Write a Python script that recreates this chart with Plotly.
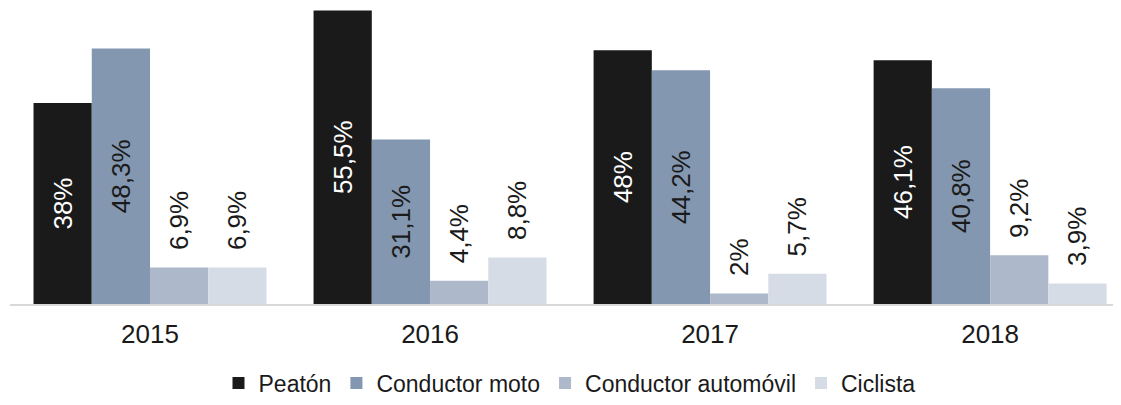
import plotly.graph_objects as go

years = ["2015", "2016", "2017", "2018"]
series_names = ["Peatón", "Conductor moto", "Conductor automóvil", "Ciclista"]
peaton = [38.0, 55.5, 48.0, 46.1]
moto = [48.3, 31.1, 44.2, 40.8]
automovil = [6.9, 4.4, 2.0, 9.2]
ciclista = [6.9, 8.8, 5.7, 3.9]
values = [peaton, moto, automovil, ciclista]

colors = ["#1a1a1a", "#8497b0", "#adb9ca", "#d6dce5"]
text_colors = ["#ffffff", "#1a1a1a", "#1a1a1a", "#1a1a1a"]
positions = ["inside", "inside", "outside", "outside"]
FONT = "Arial, 'Liberation Sans', sans-serif"


def fmt(v):
    s = f"{v:.1f}".rstrip("0").rstrip(".")
    return s.replace(".", ",") + "%"


fig = go.Figure()
for name, vals, col, tcol, pos in zip(series_names, values, colors, text_colors, positions):
    pad = "\u00a0\u00a0" if pos == "outside" else ""
    fig.add_trace(go.Bar(
        name=name,
        x=years,
        y=vals,
        marker=dict(color=col, line=dict(width=0)),
        text=[pad + fmt(v) for v in vals],
        textposition=pos,
        textangle=-90,
        insidetextanchor="middle",
        constraintext="none",
        cliponaxis=False,
        textfont=dict(family=FONT, size=26, color=tcol),
        outsidetextfont=dict(family=FONT, size=26, color="#1a1a1a"),
        hoverinfo="skip",
    ))

fig.update_layout(
    width=1121,
    height=405,
    margin=dict(l=2, r=0, t=2, b=109),
    paper_bgcolor="white",
    plot_bgcolor="white",
    barmode="group",
    bargap=0.168,
    bargroupgap=0,
    font=dict(family=FONT, color="#1a1a1a"),
    showlegend=True,
    legend=dict(
        orientation="h",
        x=0.5, xanchor="center",
        yref="container", y=0.074, yanchor="middle",
        font=dict(family=FONT, size=23, color="#1a1a1a"),
        itemwidth=30,
        tracegroupgap=0,
    ),
    xaxis=dict(
        type="category",
        range=[-0.5, 3.496],
        showline=True,
        linecolor="#d9d9d9",
        linewidth=2,
        ticks="",
        showgrid=False,
        tickfont=dict(family=FONT, size=26, color="#1a1a1a"),
        ticklabelstandoff=6,
    ),
    yaxis=dict(
        range=[0, 55.6],
        visible=False,
        showgrid=False,
        zeroline=False,
    ),
)

fig.write_html("out.html")
